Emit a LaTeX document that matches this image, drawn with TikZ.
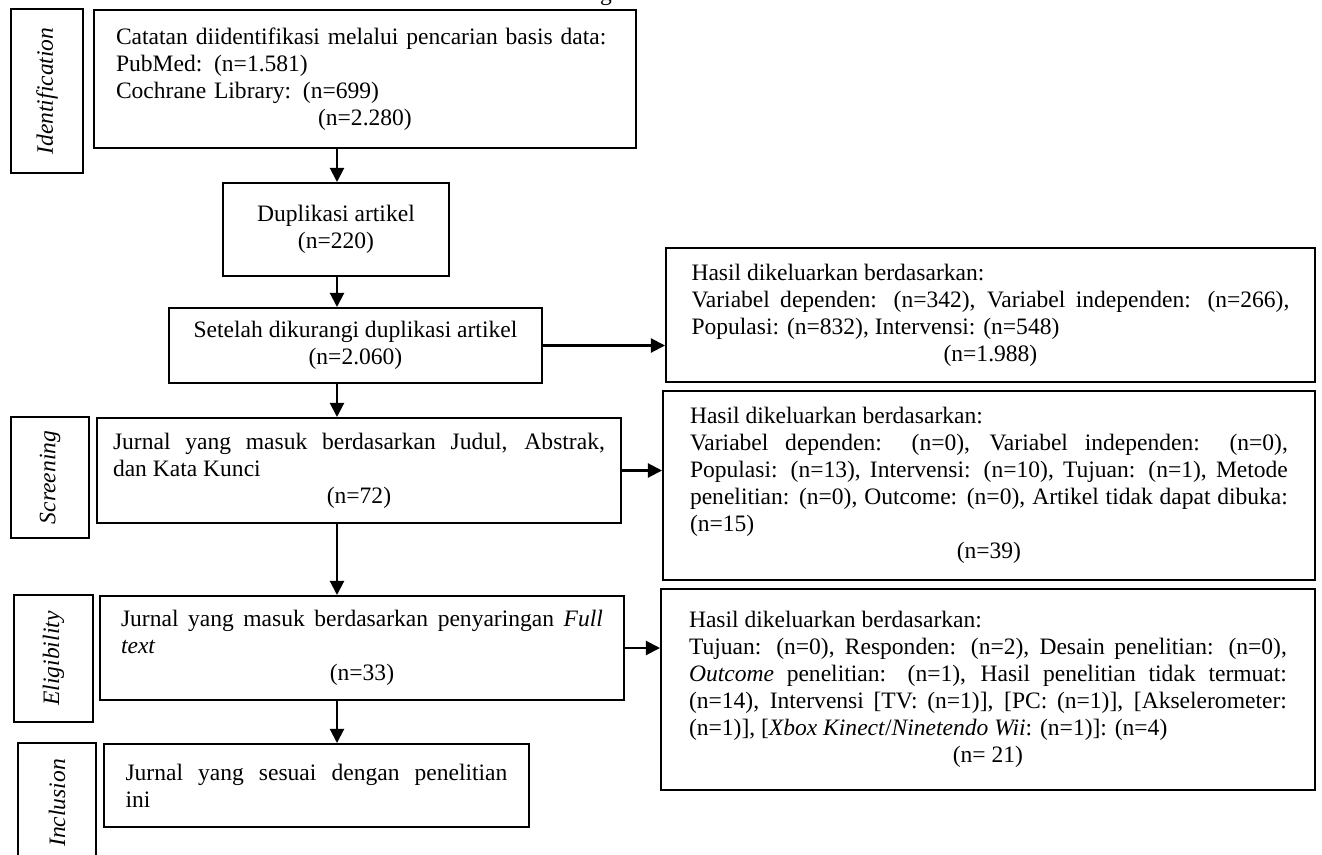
\documentclass[tikz,border=0pt]{standalone}
\usepackage{fontspec}
\setmainfont{Liberation Serif}
\usepackage{graphicx}
\usetikzlibrary{arrows.meta, positioning}
\tikzset{
->, % connectors are directed
>={Triangle[width=8pt,length=8pt]}, % filled heads as in the flow chart
every node/.style={font=\fontsize{13.4}{15.4}\selectfont},
box/.style={draw, line width=1.15pt, anchor=north west},
phase/.style={draw, line width=1.15pt, inner sep=0pt},
}
\newcommand{\lastline}[1]{\par\centerline{#1}}
\hyphenpenalty=10000

\begin{document}
\begin{tikzpicture}[x=0.02cm, y=-0.02cm, line width=1.15pt]
    \useasboundingbox (0,0) rectangle (1322,855);
    \coordinate (spine) at (337,0);
    \node[anchor=base, inner sep=0pt] (ttl) at (606,1) {g};

    % main column
    \node[box, minimum width=10.84cm, minimum height=2.76cm, text width=9.96cm, inner xsep=0.44cm, align=left] (idbox) at (93,9)
        {Catatan diidentifikasi melalui pencarian basis data:\\PubMed: (n=1.581)\\Cochrane Library: (n=699)\lastline{(n=2.280)}};
    \node[box, minimum width=4.52cm, minimum height=1.86cm, align=center] (dup) at (222,182)
        {Duplikasi artikel\\(n=220)};
    \node[box, minimum width=7.46cm, minimum height=1.5cm, align=center] (setl) at (168,307)
        {Setelah dikurangi duplikasi artikel\\(n=2.060)};
    \node[box, minimum width=10.48cm, minimum height=2.1cm, text width=9.84cm, inner xsep=0.32cm, align=justify] (scr) at (96,417)
        {Jurnal yang masuk berdasarkan Judul, Abstrak,\linebreak dan Kata Kunci\lastline{(n=72)}};
    \node[box, minimum width=10.48cm, minimum height=2.08cm, text width=9.64cm, inner xsep=0.42cm, align=justify] (elig) at (99,595)
        {Jurnal yang masuk berdasarkan penyaringan \textit{Full}\linebreak \textit{text}\lastline{(n=33)}};
    \node[box, minimum width=8.5cm, minimum height=1.66cm, text width=7.64cm, inner xsep=0.43cm, align=justify] (incl) at (103,743)
        {Jurnal yang sesuai dengan penelitian\linebreak ini};

    % excluded records
    \node[box, minimum width=12.98cm, minimum height=2.68cm, text width=11.96cm, inner xsep=0.51cm, align=justify] (ex1) at (665,247)
        {Hasil dikeluarkan berdasarkan:\par Variabel dependen: (n=342), Variabel independen: (n=266),\linebreak Populasi: (n=832), Intervensi: (n=548)\lastline{(n=1.988)}};
    \node[box, minimum width=13.04cm, minimum height=3.78cm, text width=11.96cm, inner xsep=0.54cm, align=justify] (ex2) at (662,390)
        {Hasil dikeluarkan berdasarkan:\par Variabel dependen: (n=0), Variabel independen: (n=0),\linebreak Populasi: (n=13), Intervensi: (n=10), Tujuan: (n=1), Metode\linebreak penelitian: (n=0), Outcome: (n=0), Artikel tidak dapat dibuka:\linebreak (n=15)\lastline{(n=39)}};
    \node[box, minimum width=13.08cm, minimum height=4.02cm, text width=11.96cm, inner xsep=0.56cm, align=justify] (ex3) at (660,588)
        {Hasil dikeluarkan berdasarkan:\par Tujuan: (n=0), Responden: (n=2), Desain penelitian: (n=0),\linebreak \textit{Outcome} penelitian: (n=1), Hasil penelitian tidak termuat:\linebreak (n=14), Intervensi [TV: (n=1)], [PC: (n=1)], [Akselerometer:\linebreak (n=1)], [\textit{Xbox Kinect}/\textit{Ninetendo Wii}: (n=1)]: (n=4)\lastline{(n= 21)}};

    % phase labels
    \node[phase, minimum width=1.44cm, minimum height=3.28cm] (lid) at (47,91) {\rotatebox{90}{\textit{Identification}}};
    \node[phase, minimum width=1.56cm, minimum height=2.42cm] (lscr) at (50,477.5) {\rotatebox{90}{\textit{Screening}}};
    \node[phase, minimum width=1.58cm, minimum height=2.54cm] (lelig) at (53.5,658.5) {\rotatebox{90}{\textit{Eligibility}}};
    \node[phase, minimum width=1.56cm, minimum height=2.4cm] (lincl) at (57,803) {\rotatebox{90}{\textit{Inclusion}}};

    % connectors
    \draw (idbox.south -| spine) -- (dup.north -| spine);
    \draw (dup.south -| spine) -- (setl.north -| spine);
    \draw (setl.south -| spine) -- (scr.north -| spine);
    \draw (scr.south -| spine) -- (elig.north -| spine);
    \draw (elig.south -| spine) -- (incl.north -| spine);
    \draw (setl.east) -- (setl.east -| ex1.west);
    \draw (scr.east) -- (scr.east -| ex2.west);
    \draw (elig.east) -- (elig.east -| ex3.west);
\end{tikzpicture}
\end{document}
